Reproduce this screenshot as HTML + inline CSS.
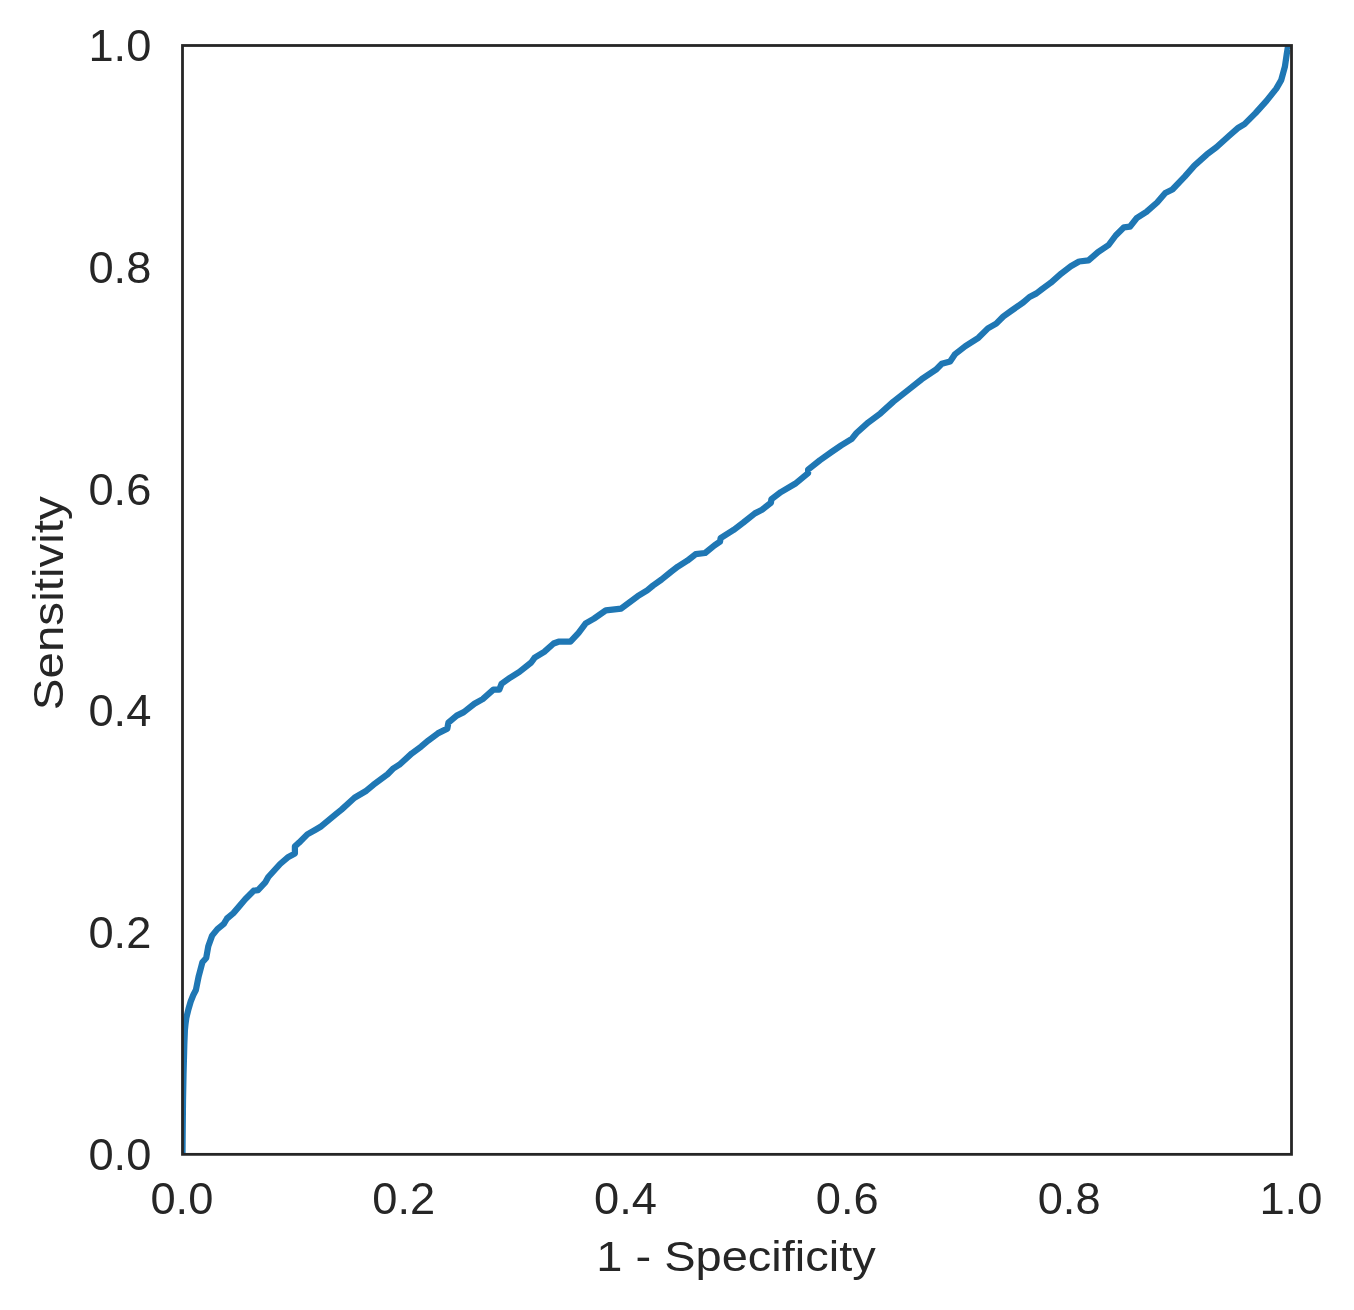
<!DOCTYPE html>
<html><head><meta charset="utf-8"><style>
html,body{margin:0;padding:0;background:#fff;width:1354px;height:1310px;overflow:hidden}
svg{display:block;will-change:transform}
text{font-family:"Liberation Sans",sans-serif;fill:#262626}
</style></head><body>
<svg width="1354" height="1310" viewBox="0 0 1354 1310">
<defs><clipPath id="ax"><rect x="182.5" y="45.5" width="1109.00" height="1108.85"/></clipPath></defs>
<rect width="1354" height="1310" fill="#fff"/>
<path clip-path="url(#ax)" d="M182.5,1154.3 L182.6,1140.0 L183.0,1100.0 L183.5,1075.0 L184.3,1045.0 L184.9,1030.0 L185.5,1024.0 L186.3,1018.0 L188.5,1009.0 L190.7,1001.5 L193.3,995.0 L195.9,990.0 L198.7,976.2 L202.4,962.3 L206.2,958.0 L208.3,946.2 L212.1,935.6 L217.4,929.1 L223.8,923.8 L227.0,918.5 L233.4,913.1 L239.8,905.6 L245.2,899.2 L253.7,890.7 L258.0,890.1 L265.5,882.1 L268.3,877.0 L280.1,864.0 L288.4,856.9 L294.9,853.4 L294.9,846.3 L299.0,842.7 L307.3,834.4 L315.5,829.7 L321.4,826.2 L335.6,814.4 L341.5,809.6 L354.5,797.8 L366.4,790.7 L373.4,784.8 L387.6,774.2 L393.5,768.3 L399.4,764.7 L411.8,753.4 L421.3,746.4 L428.4,740.4 L437.8,733.4 L447.3,728.6 L448.4,722.7 L456.7,715.6 L463.8,712.1 L474.4,703.8 L482.7,699.1 L493.4,689.6 L499.3,689.6 L501.6,683.7 L509.9,677.8 L519.4,671.9 L531.2,662.5 L534.7,657.7 L544.2,651.8 L553.6,643.5 L558.5,641.7 L570.4,641.7 L578.6,632.8 L585.7,623.4 L594.0,618.6 L605.8,610.4 L621.2,608.6 L637.7,596.2 L647.2,590.3 L653.1,585.5 L661.4,579.6 L670.8,572.0 L677.9,566.6 L687.3,560.7 L695.6,554.2 L705.1,553.0 L714.5,545.4 L720.0,541.7 L720.6,538.2 L733.6,529.9 L743.1,522.8 L754.9,513.4 L762.0,509.8 L770.9,502.7 L771.4,499.2 L780.9,492.1 L795.1,483.8 L808.1,473.2 L808.1,469.6 L819.9,460.2 L831.7,451.9 L841.2,445.4 L851.8,438.9 L856.5,433.0 L868.3,422.4 L880.4,413.4 L893.4,401.6 L909.9,388.6 L921.7,379.2 L935.9,369.7 L941.8,363.8 L950.1,361.4 L954.8,354.4 L965.4,346.1 L978.4,337.8 L987.9,328.4 L996.2,323.6 L1003.3,316.5 L1011.5,310.6 L1023.3,302.4 L1029.5,297.0 L1036.5,293.4 L1042.5,288.7 L1050.7,282.8 L1061.4,273.4 L1070.8,266.3 L1079.1,261.5 L1088.5,260.4 L1098.0,252.1 L1108.6,245.0 L1115.7,235.5 L1124.0,227.3 L1129.9,226.7 L1137.0,217.8 L1146.4,211.9 L1157.1,202.5 L1165.3,193.0 L1172.4,189.5 L1184.7,176.6 L1194.4,165.6 L1206.7,154.6 L1216.4,147.3 L1228.6,136.3 L1238.4,127.7 L1244.5,124.1 L1255.5,113.1 L1266.5,100.9 L1276.3,88.6 L1281.2,80.1 L1284.9,66.7 L1286.7,54.4 L1287.9,47.1 L1291.5,45.5" fill="none" stroke="#1f77b4" stroke-width="6.25" stroke-linejoin="round" stroke-linecap="butt"/>
<rect x="182.5" y="45.5" width="1109.00" height="1108.85" fill="none" stroke="#262626" stroke-width="2.8" stroke-linejoin="miter"/>
<g font-size="43.6">
<text transform="translate(151.30,1169.95) scale(1.038,1)" text-anchor="end">0.0</text>
<text transform="translate(151.30,948.18) scale(1.038,1)" text-anchor="end">0.2</text>
<text transform="translate(151.30,726.41) scale(1.038,1)" text-anchor="end">0.4</text>
<text transform="translate(151.30,504.64) scale(1.038,1)" text-anchor="end">0.6</text>
<text transform="translate(151.30,282.87) scale(1.038,1)" text-anchor="end">0.8</text>
<text transform="translate(151.30,61.10) scale(1.038,1)" text-anchor="end">1.0</text>
<text transform="translate(181.90,1214.30) scale(1.038,1)" text-anchor="middle">0.0</text>
<text transform="translate(403.70,1214.30) scale(1.038,1)" text-anchor="middle">0.2</text>
<text transform="translate(625.50,1214.30) scale(1.038,1)" text-anchor="middle">0.4</text>
<text transform="translate(847.30,1214.30) scale(1.038,1)" text-anchor="middle">0.6</text>
<text transform="translate(1069.10,1214.30) scale(1.038,1)" text-anchor="middle">0.8</text>
<text transform="translate(1290.90,1214.30) scale(1.038,1)" text-anchor="middle">1.0</text>
</g>
<g font-size="41.67">
<text transform="translate(736.0,1270.8) scale(1.128,1)" text-anchor="middle">1 - Specificity</text>
<text transform="translate(63,603.2) rotate(-90) scale(1.142,1)" text-anchor="middle">Sensitivity</text>
</g>
</svg>
</body></html>
